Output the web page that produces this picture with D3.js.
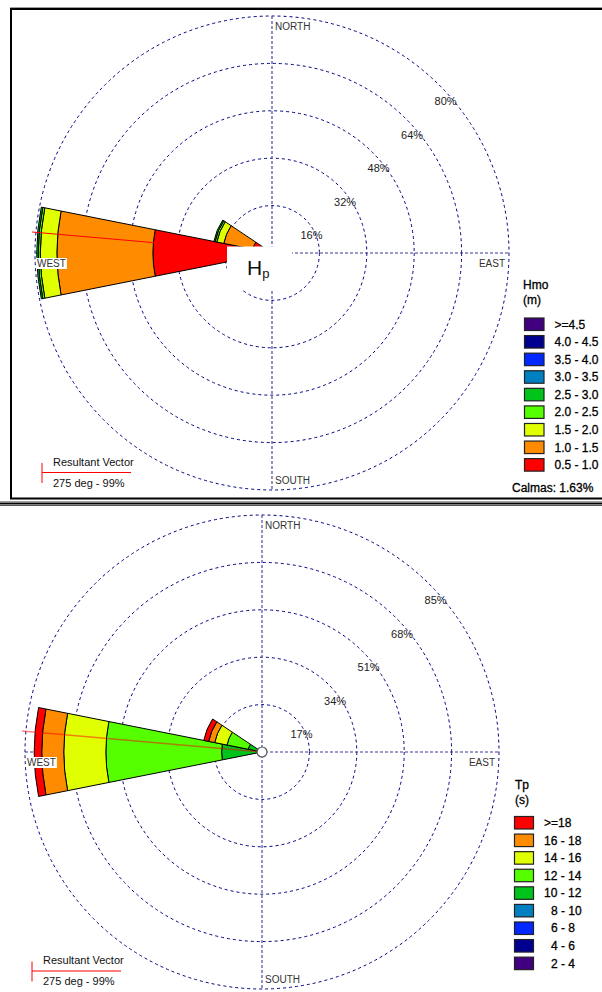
<!DOCTYPE html>
<html><head><meta charset="utf-8">
<script src="https://cdn.jsdelivr.net/npm/d3@7"></script>
<style>html,body{margin:0;padding:0;background:#fff;} svg{display:block;font-family:"Liberation Sans",Arial,sans-serif;}</style>
</head><body><svg id="c" width="602" height="992"></svg>
<script>
// ---------- data ----------
const directions = ["W", "WNW"];
const directionAngles = [270, 292.5];
const axisLabels = ["NORTH", "EAST", "SOUTH", "WEST"];

const hmoBins = ["0.5 - 1.0", "1.0 - 1.5", "1.5 - 2.0", "2.0 - 2.5", "2.5 - 3.0", "3.0 - 3.5", "3.5 - 4.0", "4.0 - 4.5", ">=4.5"];
const hmoColors = ["#ff0000", "#ff8c00", "#e0ff00", "#55ff00", "#00c41c", "#0080c0", "#0028ff", "#000090", "#400080"];
const hmoW = [40.2, 32.4, 5.6, 0.7, 0.5, 0, 0, 0, 0];
const hmoWNW = [6.6, 10.0, 2.4, 0.6, 0.4, 0, 0, 0, 0];
const hmoRings = [16, 32, 48, 64, 80];

const tpBins = ["2 - 4", "4 - 6", "6 - 8", "8 - 10", "10 - 12", "12 - 14", "14 - 16", "16 - 18", ">=18"];
const tpColors = ["#400080", "#000090", "#0028ff", "#0080c0", "#00c41c", "#55ff00", "#e0ff00", "#ff8c00", "#ff0000"];
const tpW = [0, 0, 0, 0, 14.5, 41.5, 15.1, 7.9, 2.7];
const tpWNW = [0, 0, 0, 0, 5.0, 7.8, 4.5, 2.2, 1.8];
const tpRings = [17, 34, 51, 68, 85];

const resultantDeg = 275;
const resultantPct = 99;
const calmPct = 1.63;

// ---------- drawing ----------
const svg = d3.select("#c");
const rad = d => d * Math.PI / 180;
const R = 237;

function drawPanel(p) {
  const g = svg.append("g");
  const cx = p.cx, cy = p.cy;
  const r = d3.scaleLinear().domain([0, p.rings[p.rings.length - 1]]).range([0, R]);

  // rings
  g.selectAll("circle.ring").data(p.rings).join("circle")
    .attr("cx", cx).attr("cy", cy).attr("r", d => r(d))
    .attr("fill", "none").attr("stroke", "#000080").attr("stroke-width", 1)
    .attr("stroke-dasharray", "3,3");
  // axes
  g.append("line").attr("x1", cx).attr("x2", cx).attr("y1", cy - R).attr("y2", cy + R)
    .attr("stroke", "#5858a8").attr("stroke-width", 1.3).attr("stroke-dasharray", "3,2");
  g.append("line").attr("x1", cx - R).attr("x2", cx + R).attr("y1", cy).attr("y2", cy)
    .attr("stroke", "#3a3a98").attr("stroke-width", 1.2).attr("stroke-dasharray", "3,2");

  // wedges
  const arc = d3.arc();
  p.series.forEach((vals, i) => {
    const a = directionAngles[i];
    let cum = 0;
    vals.forEach((v, j) => {
      if (v <= 0) return;
      const c0 = cum; cum += v;
      g.append("path")
        .attr("transform", `translate(${cx},${cy})`)
        .attr("d", arc({innerRadius: r(c0), outerRadius: r(cum), startAngle: rad(a - 11.25), endAngle: rad(a + 11.25)}))
        .attr("fill", p.colors[j]).attr("stroke", "#000").attr("stroke-width", 1)
        .attr("stroke-linejoin", "round");
    });
  });

  // resultant vector
  const L = R + 4;
  g.append("line").attr("x1", cx).attr("y1", cy)
    .attr("x2", cx + L * Math.sin(rad(resultantDeg))).attr("y2", cy - L * Math.cos(rad(resultantDeg)))
    .attr("stroke", "#ff0000").attr("stroke-width", p.vecW).attr("stroke-opacity", p.vecOp);

  // ring labels
  g.selectAll("text.rl").data(p.rings).join("text")
    .attr("x", d => cx + r(d) / Math.SQRT2 + 6).attr("y", d => cy - r(d) / Math.SQRT2 + 20)
    .attr("text-anchor", "middle").attr("font-size", 11).attr("fill", "#222")
    .text(d => d + "%");

  // direction labels with white background
  const lab = [
    {t: axisLabels[0], x: cx + 3, y: cy - R + 14, a: "start"},
    {t: axisLabels[1], x: cx + R - 4, y: cy + 14, a: "end"},
    {t: axisLabels[2], x: cx + 3, y: cy + R - 6, a: "start"},
    {t: axisLabels[3], x: cx - R + 2, y: cy + 14, a: "start"}
  ];
  lab.forEach(l => {
    const t = g.append("text").attr("x", l.x).attr("y", l.y).attr("text-anchor", l.a)
      .attr("font-size", 10).attr("fill", "#333").text(l.t);
    const b = t.node().getBBox();
    g.insert("rect", () => t.node()).attr("x", b.x - 1).attr("y", b.y).attr("width", b.width + 2).attr("height", b.height)
      .attr("fill", "#fff");
  });

  // center
  if (p.hp) {
    g.append("rect").attr("x", cx - 45).attr("y", cy - 6.5).attr("width", 65).attr("height", 43.5).attr("fill", "#fff");
    const t = g.append("text").attr("x", cx - 25).attr("y", cy + 22).attr("font-size", 21).attr("fill", "#111");
    t.append("tspan").text("H");
    t.append("tspan").attr("font-size", 13).attr("dy", 3).text("p");
  } else {
    g.append("circle").attr("cx", cx).attr("cy", cy).attr("r", 5).attr("fill", "#fff")
      .attr("stroke", "#555").attr("stroke-width", 1.2);
  }

  // resultant legend
  g.append("line").attr("x1", p.rvx).attr("x2", p.rvx + 89).attr("y1", p.rvy).attr("y2", p.rvy)
    .attr("stroke", "#ff0000").attr("stroke-width", 1);
  g.append("line").attr("x1", p.rvx).attr("x2", p.rvx).attr("y1", p.rvy - 9.5).attr("y2", p.rvy + 10.5)
    .attr("stroke", "#ff0000").attr("stroke-width", 1);
  g.append("text").attr("x", p.rvx + 11).attr("y", p.rvy - 7).attr("font-size", 11).attr("fill", "#111")
    .text("Resultant Vector");
  g.append("text").attr("x", p.rvx + 11).attr("y", p.rvy + 14).attr("font-size", 11).attr("fill", "#111")
    .text(resultantDeg + " deg - " + resultantPct + "%");

  // legend
  const lg = g.append("g").attr("font-size", 12).attr("fill", "#000")
    .attr("stroke", "#000").attr("stroke-width", 0.3);
  lg.append("text").attr("x", p.lx0).attr("y", p.ly0 + 4).text(p.title);
  lg.append("text").attr("x", p.lx0).attr("y", p.ly0 + 19).text(p.unit);
  const items = p.bins.map((b, i) => ({b, c: p.colors[i]})).reverse();
  items.forEach((d, i) => {
    const y = p.by + i * 17.58;
    g.append("rect").attr("x", p.bx + 0.5).attr("y", y + 0.5).attr("width", p.bw).attr("height", 12.5)
      .attr("fill", d.c).attr("stroke", "#222").attr("stroke-width", 1.2);
    lg.append("text").attr("x", p.bx + p.bw + 11 + (/^\d /.test(d.b) ? 7 : 0)).attr("y", y + 11)
      .text(d.b);
  });
  if (p.calm) {
    lg.append("text").attr("x", p.bx - 12).attr("y", p.by + 9 * 17.58 + 16).text("Calmas: " + calmPct + "%");
  }
}

// frames
svg.append("line").attr("x1", 10).attr("x2", 602).attr("y1", 7.5).attr("y2", 7.5).attr("stroke", "#a0a0a0");
svg.append("line").attr("x1", 10).attr("x2", 602).attr("y1", 9).attr("y2", 9).attr("stroke", "#000").attr("stroke-width", 2);
svg.append("line").attr("x1", 11).attr("x2", 11).attr("y1", 8).attr("y2", 499).attr("stroke", "#000").attr("stroke-width", 2);
svg.append("line").attr("x1", 10).attr("x2", 602).attr("y1", 498.5).attr("y2", 498.5).attr("stroke", "#000").attr("stroke-width", 2);
svg.append("line").attr("x1", 0).attr("x2", 602).attr("y1", 501.5).attr("y2", 501.5).attr("stroke", "#a0a0a0");
svg.append("line").attr("x1", 0).attr("x2", 602).attr("y1", 503.5).attr("y2", 503.5).attr("stroke", "#000").attr("stroke-width", 2);
svg.append("line").attr("x1", 0).attr("x2", 602).attr("y1", 505.5).attr("y2", 505.5).attr("stroke", "#555");

drawPanel({cx: 272, cy: 253, rings: hmoRings, series: [hmoW, hmoWNW], colors: hmoColors, bins: hmoBins,
  title: "Hmo", unit: "(m)", lx0: 523, ly0: 285, bx: 524, by: 317.5, bw: 19.5, calm: true, hp: true,
  rvx: 42, rvy: 472.5, vecW: 1, vecOp: 1});
drawPanel({cx: 262, cy: 752, rings: tpRings, series: [tpW, tpWNW], colors: tpColors, bins: tpBins,
  title: "Tp", unit: "(s)", lx0: 515, ly0: 785, bx: 514, by: 816, bw: 19, calm: false, hp: false,
  rvx: 32, rvy: 971, vecW: 1.5, vecOp: 0.5});
</script></body></html>
